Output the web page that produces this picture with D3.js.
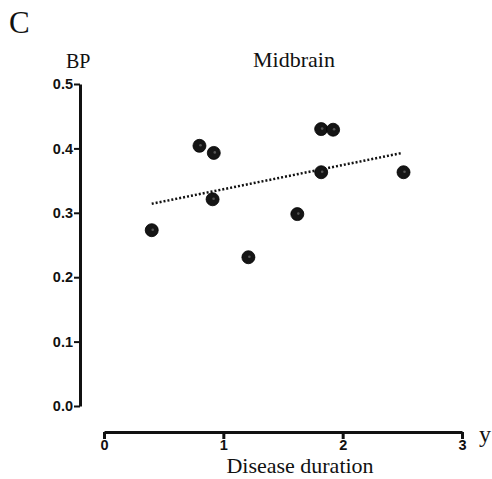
<!DOCTYPE html>
<html><head><meta charset="utf-8">
<script src="https://cdn.jsdelivr.net/npm/d3@7/dist/d3.min.js"></script>
<style>html,body{margin:0;padding:0;background:#fff;}svg{display:block;}</style>
</head><body>
<script>
const durationYears = [0.40, 0.80, 0.92, 0.91, 1.21, 1.62, 1.82, 1.82, 1.92, 2.51];
const bpValues      = [0.273, 0.404, 0.393, 0.321, 0.231, 0.298, 0.363, 0.430, 0.429, 0.363];
const trendX = [0.40, 2.50];
const trendY = [0.314, 0.393];
const xTicks = [0, 1, 2, 3];
const yTicks = [0.0, 0.1, 0.2, 0.3, 0.4, 0.5];

const W = 492, H = 479;
const svg = d3.select("body").append("svg").attr("width", W).attr("height", H);
const serif = "'Liberation Serif','DejaVu Serif',serif";
const sans = "'Liberation Sans','DejaVu Sans',sans-serif";

const x = d3.scaleLinear().domain([0, 3]).range([104, 462]);
const y = d3.scaleLinear().domain([0, 0.5]).range([406, 84]);

// y axis
const ya = svg.append("g").attr("transform", "translate(80,0)")
  .call(d3.axisLeft(y).tickValues(yTicks).tickFormat(d3.format(".1f")).tickSize(6).tickPadding(1).tickSizeOuter(0));
ya.select(".domain").attr("stroke", "#111").attr("stroke-width", 3);
ya.selectAll(".tick line").attr("stroke", "#111").attr("stroke-width", 2);
ya.selectAll(".tick text").style("font-family", sans).style("font-size", "14.5px").style("font-weight", "600").attr("fill", "#111");

// x axis
const xa = svg.append("g").attr("transform", "translate(0,432)")
  .call(d3.axisBottom(x).tickValues(xTicks).tickFormat(d3.format("d")).tickSize(7).tickPadding(1).tickSizeOuter(0));
xa.select(".domain").attr("stroke", "#111").attr("stroke-width", 3);
xa.selectAll(".tick line").attr("stroke", "#111").attr("stroke-width", 3);
xa.selectAll(".tick text").style("font-family", sans).style("font-size", "14.5px").style("font-weight", "600").attr("fill", "#111");

// trend line
svg.append("line")
  .attr("x1", x(trendX[0])).attr("y1", y(trendY[0]))
  .attr("x2", x(trendX[1])).attr("y2", y(trendY[1]))
  .attr("stroke", "#111").attr("stroke-width", 2.5).attr("stroke-dasharray", "2,2");

// points
const pts = durationYears.map((d, i) => [d, bpValues[i]]);
svg.append("g").selectAll("circle").data(pts).join("circle")
  .attr("cx", d => x(d[0])).attr("cy", d => y(d[1])).attr("r", 6.5)
  .attr("fill", "#151515").attr("stroke", "#000").attr("stroke-width", 0.8);
svg.append("g").selectAll("circle").data(pts).join("circle")
  .attr("cx", d => x(d[0]) + 1).attr("cy", d => y(d[1]) - 0.5).attr("r", 1.3)
  .attr("fill", "#555");

// texts
svg.append("text").attr("x", 9).attr("y", 33).attr("font-family", serif).attr("font-size", 31).attr("fill", "#111").text("C");
svg.append("text").attr("x", 66).attr("y", 68).attr("font-family", serif).attr("font-size", 20).attr("fill", "#111").text("BP");
svg.append("text").attr("x", 294).attr("y", 67).attr("text-anchor", "middle").attr("font-family", serif).attr("font-size", 22).attr("fill", "#111").text("Midbrain");
svg.append("text").attr("x", 300).attr("y", 473).attr("text-anchor", "middle").attr("font-family", serif).attr("font-size", 22).attr("fill", "#111").text("Disease duration");
svg.append("text").attr("x", 479).attr("y", 442).attr("font-family", serif).attr("font-size", 24).attr("fill", "#111").text("y");
</script>
</body></html>
